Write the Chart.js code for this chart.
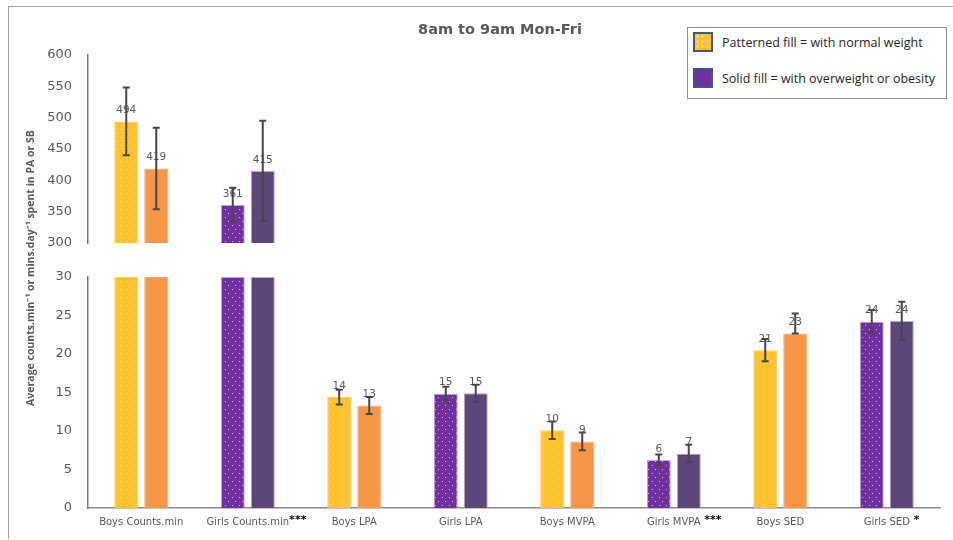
<!DOCTYPE html>
<html>
<head>
<meta charset="utf-8">
<script src="https://cdn.jsdelivr.net/npm/chart.js@4.4.1/dist/chart.umd.min.js"></script>
<style>
  html, body { margin: 0; padding: 0; background: #fff; }
  #wrap { position: relative; width: 953px; height: 540px; overflow: hidden; }
  #frame { position: absolute; left: 8px; top: 6px; width: 1000px; height: 532px;
           border-top: 1px solid #a3a3a3; border-left: 1px solid #a3a3a3; }
  #chart { position: absolute; left: 0; top: 0; }
  #legend { position: absolute; left: 687px; top: 27px; width: 260px; height: 72px;
            box-sizing: border-box; border: 1px solid #8f8f8f; background: #fff;
            font-family: "Open Sans", sans-serif; font-size: 12.5px; color: #262626; }
  .item { position: absolute; left: 5px; height: 20px; display: flex; align-items: center; }
  .swatch { width: 16px; height: 16px; border: 2px solid #3d5a8c; margin-right: 9px; }
  .sw-pattern { background-color: #ffc12e;
    background-image: radial-gradient(circle, rgba(255,240,190,0.95) 0.8px, transparent 1.2px);
    background-size: 5px 5px; }
  .sw-solid { background-color: #7030a0; }
</style>
</head>
<body>
<div id="wrap">
  <div id="frame"></div>
  <canvas id="chart" width="953" height="540"></canvas>
  <div id="legend">
    <div class="item" style="top:4px"><div class="swatch sw-pattern"></div><span>Patterned fill = with normal weight</span></div>
    <div class="item" style="top:40px"><div class="swatch sw-solid"></div><span>Solid fill = with overweight or obesity</span></div>
  </div>
</div>
<script>
// Categories along the x axis and the significance marks printed after some of them
const categories = ['Boys Counts.min', 'Girls Counts.min', 'Boys LPA', 'Girls LPA',
                    'Boys MVPA', 'Girls MVPA', 'Boys SED', 'Girls SED'];
const significance = ['', '***', '', '', '', ' ***', '', ' *'];
const girls = [false, true, false, true, false, true, false, true];

// Means, 8am to 9am Mon-Fri
const normalWeight    = [494, 361, 14.4, 14.85, 10.1, 6.25, 20.5, 24.2];
const overweightObese = [419, 415, 13.3, 14.9, 8.65, 7.05, 22.65, 24.3];

// Error bar extents (above / below the mean)
const normalErrUp   = [54, 27, 0.95, 0.9, 1.15, 0.7, 1.45, 1.5];
const normalErrDown = [54, 27, 0.95, 0.9, 1.15, 0.7, 1.45, 1.5];
const overErrUp     = [65, 80, 1.1, 1.1, 1.15, 1.15, 2.6, 2.5];
const overErrDown   = [65, 80, 1.1, 1.1, 1.15, 1.1, 0, 2.5];

// Broken value axis: counts panel above, minutes panel below
const upperTicks = [300, 350, 400, 450, 500, 550, 600];
const lowerTicks = [0, 5, 10, 15, 20, 25, 30];
const upperMin = upperTicks[0], upperMax = upperTicks[upperTicks.length - 1];
const lowerMin = lowerTicks[0], lowerMax = lowerTicks[lowerTicks.length - 1];

const upperNormal = normalWeight.map(v => v > lowerMax ? v : null);
const upperOver   = overweightObese.map(v => v > lowerMax ? v : null);
const lowerNormal = normalWeight.map(v => Math.min(v, lowerMax));
const lowerOver   = overweightObese.map(v => Math.min(v, lowerMax));

// Fill styles
function dotted(base, dot) {
  const c = document.createElement('canvas');
  c.width = 7; c.height = 8;
  const g = c.getContext('2d');
  g.fillStyle = base; g.fillRect(0, 0, 7, 8);
  g.fillStyle = dot;
  g.fillRect(1, 1, 1, 1);
  g.fillRect(4, 5, 1, 1);
  return g.createPattern(c, 'repeat');
}
const ctx = document.getElementById('chart').getContext('2d');
const yellowDots = dotted('#ffc12e', 'rgba(255,236,170,0.95)');
const purpleDots = dotted('#7030a0', 'rgba(226,190,245,0.95)');
const normalFill = girls.map(g => g ? purpleDots : yellowDots);
const normalEdge = girls.map(g => g ? '#c4a6e2' : '#ffcf5c');
const overFill = girls.map(g => g ? '#5d4679' : '#f79646');
const overEdge = girls.map(g => g ? '#b8a6d4' : '#f9ad70');

const barShape = { categoryPercentage: 0.5634, barPercentage: 0.8, borderWidth: 1, borderSkipped: 'bottom' };

const GREY = '#595959';
const errorSets = [
  { up: normalErrUp, down: normalErrDown, values: normalWeight },
  { up: overErrUp, down: overErrDown, values: overweightObese }
];

// Value labels and error bars, drawn on top of the bars
const annotate = {
  id: 'annotate',
  afterDatasetsDraw(chart) {
    const c = chart.ctx;
    const yTop = chart.scales.yTop, yBot = chart.scales.yBot;
    c.save();
    // value labels
    chart.data.datasets.forEach((ds, di) => {
      const meta = chart.getDatasetMeta(di);
      const upperPanel = ds.yAxisID === 'yTop';
      const src = errorSets[ds.group].values;
      meta.data.forEach((bar, i) => {
        const v = src[i];
        if (ds.data[i] === null) return;
        if (!upperPanel && v > lowerMax) return;
        c.font = '10.5px "DejaVu Sans"';
        c.fillStyle = GREY;
        c.textAlign = 'center';
        c.textBaseline = 'middle';
        c.fillText(String(Math.round(v)), bar.x, bar.y - 11);
      });
    });
    // error bars
    chart.data.datasets.forEach((ds, di) => {
      const meta = chart.getDatasetMeta(di);
      const upperPanel = ds.yAxisID === 'yTop';
      const set = errorSets[ds.group];
      meta.data.forEach((bar, i) => {
        const v = set.values[i];
        if (ds.data[i] === null) return;
        if (!upperPanel && v > lowerMax) return;
        const sc = upperPanel ? yTop : yBot;
        const yHi = sc.getPixelForValue(v + set.up[i]);
        const yLo = sc.getPixelForValue(v - set.down[i]);
        c.strokeStyle = '#474747';
        c.lineWidth = 2;
        c.beginPath();
        c.moveTo(bar.x, yHi); c.lineTo(bar.x, yLo);
        c.moveTo(bar.x - 3.5, yHi); c.lineTo(bar.x + 3.5, yHi);
        c.moveTo(bar.x - 3.5, yLo); c.lineTo(bar.x + 3.5, yLo);
        c.stroke();
      });
    });
    c.restore();
  },
  afterDraw(chart) {
    const c = chart.ctx;
    const x = chart.scales.x;
    c.save();
    // chart title
    c.font = 'bold 14.5px "DejaVu Sans"';
    c.fillStyle = GREY;
    c.textAlign = 'center';
    c.textBaseline = 'middle';
    c.fillText('8am to 9am Mon-Fri', 500, 30);
    // value axis title
    c.translate(31, 268);
    c.rotate(-Math.PI / 2);
    c.font = 'bold 10.5px "Open Sans"';
    c.fillText('Average counts.min\u207B\u00B9 or mins.day\u207B\u00B9 spent in PA or SB', 0, 0);
    c.setTransform(1, 0, 0, 1, 0, 0);
    // significance marks after the category names
    categories.forEach((name, i) => {
      if (!significance[i]) return;
      c.font = '10px "DejaVu Sans"';
      const w = c.measureText(name).width;
      const px = x.getPixelForTick(i) + w / 2;
      c.font = 'bold 11px "DejaVu Sans"';
      c.fillStyle = '#000';
      c.textAlign = 'left';
      c.textBaseline = 'top';
      c.fillText(significance[i], px, x.top + 7);
    });
    c.restore();
  }
};

const tickFont = { family: 'DejaVu Sans', size: 13 };

new Chart(ctx, {
  type: 'bar',
  data: {
    labels: categories,
    datasets: [
      { label: 'Patterned fill = with normal weight', group: 0, yAxisID: 'yTop', stack: 'normal',
        data: upperNormal, backgroundColor: normalFill, borderColor: normalEdge, ...barShape },
      { label: 'Solid fill = with overweight or obesity', group: 1, yAxisID: 'yTop', stack: 'over',
        data: upperOver, backgroundColor: overFill, borderColor: overEdge, ...barShape },
      { label: 'Patterned fill = with normal weight', group: 0, yAxisID: 'yBot', stack: 'normal',
        data: lowerNormal, backgroundColor: normalFill, borderColor: normalEdge, ...barShape },
      { label: 'Solid fill = with overweight or obesity', group: 1, yAxisID: 'yBot', stack: 'over',
        data: lowerOver, backgroundColor: overFill, borderColor: overEdge, ...barShape }
    ]
  },
  options: {
    responsive: false,
    animation: false,
    devicePixelRatio: 1,
    layout: { padding: { left: 8, right: 13, top: 55, bottom: 0 } },
    plugins: { legend: { display: false }, tooltip: { enabled: false }, title: { display: false } },
    scales: {
      x: {
        grid: { display: false, drawTicks: false },
        border: { color: '#8a8a8a', width: 1.5 },
        ticks: { font: { family: 'DejaVu Sans', size: 10 }, color: GREY, padding: 8,
                 maxRotation: 0, autoSkip: false },
        afterFit(s) { s.height = 32; }
      },
      yBot: {
        type: 'linear', position: 'left', stack: 'panels', stackWeight: 231,
        min: lowerMin, max: lowerMax, stacked: false,
        grid: { display: false, drawTicks: false },
        border: { color: '#7a7a7a', width: 1.5 },
        ticks: { font: tickFont, color: GREY, padding: 16, stepSize: 5, autoSkip: false },
        afterBuildTicks(s) { s.ticks = lowerTicks.map(v => ({ value: v })); },
        afterFit(s) { s.width = 80; }
      },
      yGap: {
        type: 'linear', position: 'left', stack: 'panels', stackWeight: 34,
        grid: { display: false, drawTicks: false },
        border: { display: false },
        ticks: { display: false },
        afterFit(s) { s.width = 80; }
      },
      yTop: {
        type: 'linear', position: 'left', stack: 'panels', stackWeight: 188,
        min: upperMin, max: upperMax, stacked: false,
        grid: { display: false, drawTicks: false },
        border: { color: '#7a7a7a', width: 1.5 },
        ticks: { font: tickFont, color: GREY, padding: 16, stepSize: 50, autoSkip: false },
        afterBuildTicks(s) { s.ticks = upperTicks.map(v => ({ value: v })); },
        afterFit(s) { s.width = 80; }
      }
    }
  },
  plugins: [annotate]
});
</script>
</body>
</html>
